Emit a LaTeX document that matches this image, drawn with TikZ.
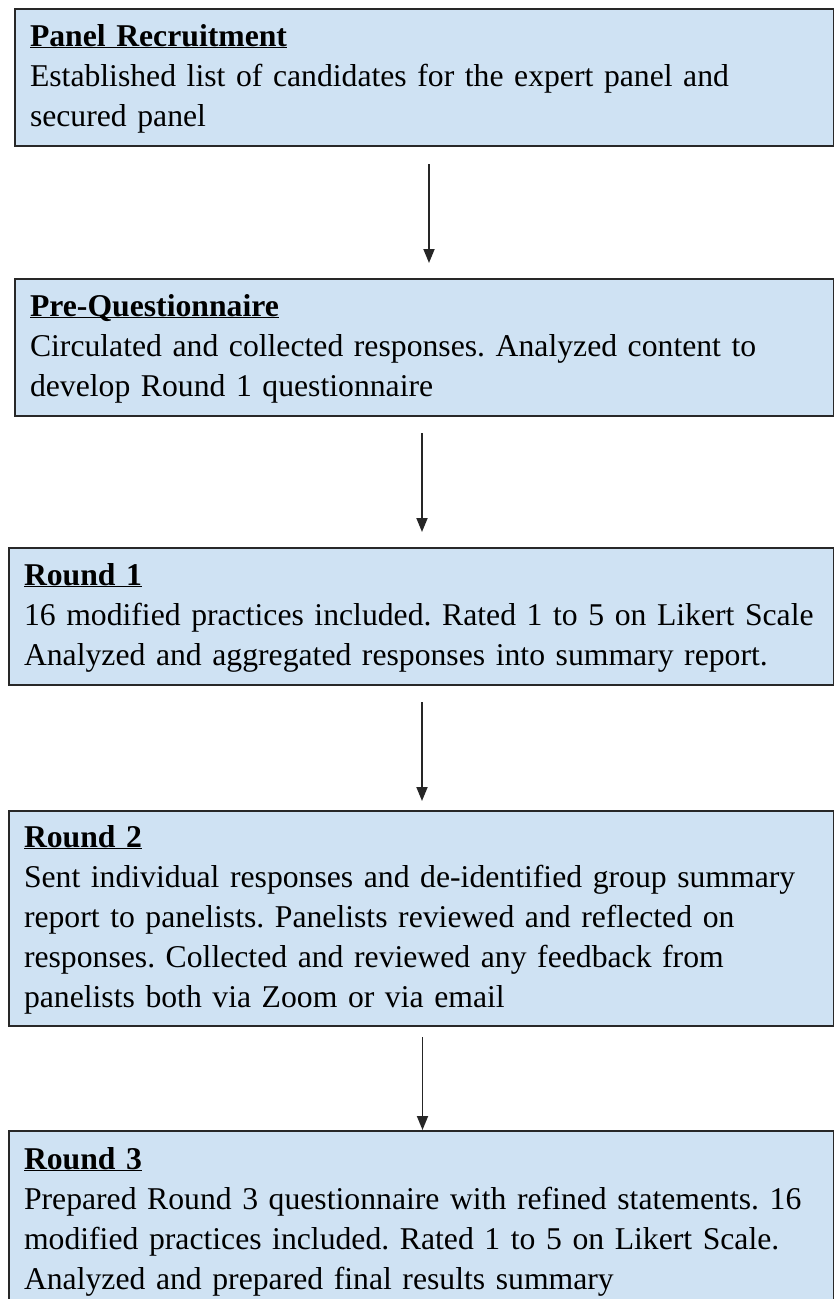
\documentclass[tikz,border=0pt]{standalone}
\usepackage{fontspec}
\setmainfont{Liberation Serif}
\usetikzlibrary{arrows.meta, positioning}
\definecolor{stageBlue}{RGB}{207, 226, 243}
\definecolor{stageEdge}{RGB}{40, 40, 40}
% bold underlined heading of each stage
\newcommand{\stagehead}[1]{\rule{0pt}{24pt}\underline{\smash{\textbf{#1}}}}

\begin{document}
\frenchspacing
\begin{tikzpicture}[
    x=1pt, y=1pt,
    stage/.style={rectangle, draw=stageEdge, fill=stageBlue, line width=2pt, anchor=north west, inner xsep=15pt, inner ysep=0pt, align=left, font=\fontsize{31.7}{40}\selectfont},
    arrow/.style={-{Triangle[length=14pt, width=11pt]}, line width=1.8pt, black!85}
]
    \clip (0,0) rectangle (834,-1299);

    \node[stage, text width=789pt, minimum height=137pt] (recruit) at (14,-8) {\stagehead{Panel Recruitment}\\
        Established list of candidates for the expert panel and\\
        secured panel};
    \node[stage, text width=789pt, minimum height=137pt] (prequest) at (14,-278) {\stagehead{Pre-Questionnaire}\\
        Circulated and collected responses. Analyzed content to\\
        develop Round 1 questionnaire};
    \node[stage, text width=795pt, minimum height=137pt] (roundone) at (8,-547) {\stagehead{Round 1}\\
        16 modified practices included. Rated 1 to 5 on Likert Scale\\
        Analyzed and aggregated responses into summary report.};
    \node[stage, text width=795pt, minimum height=215pt] (roundtwo) at (8,-810) {\stagehead{Round 2}\\
        Sent individual responses and de-identified group summary\\
        report to panelists. Panelists reviewed and reflected on\\
        responses. Collected and reviewed any feedback from\\
        panelists both via Zoom or via email};
    \node[stage, text width=795pt, minimum height=179pt] (roundthree) at (8,-1130) {\stagehead{Round 3}\\
        Prepared Round 3 questionnaire with refined statements. 16\\
        modified practices included. Rated 1 to 5 on Likert Scale.\\
        Analyzed and prepared final results summary};

    \draw[arrow, shorten <=17pt, shorten >=15pt] ([xshift=4.5pt]recruit.south) -- ([xshift=4.5pt]recruit.south |- prequest.north);
    \draw[arrow, shorten <=16pt, shorten >=15pt] ([xshift=-2.5pt]prequest.south) -- ([xshift=-2.5pt]prequest.south |- roundone.north);
    \draw[arrow, shorten <=16pt, shorten >=9pt] ([xshift=0.5pt]roundone.south) -- ([xshift=0.5pt]roundone.south |- roundtwo.north);
    \draw[arrow, shorten <=10pt] ([xshift=1pt]roundtwo.south) -- ([xshift=1pt]roundtwo.south |- roundthree.north);
\end{tikzpicture}
\end{document}
